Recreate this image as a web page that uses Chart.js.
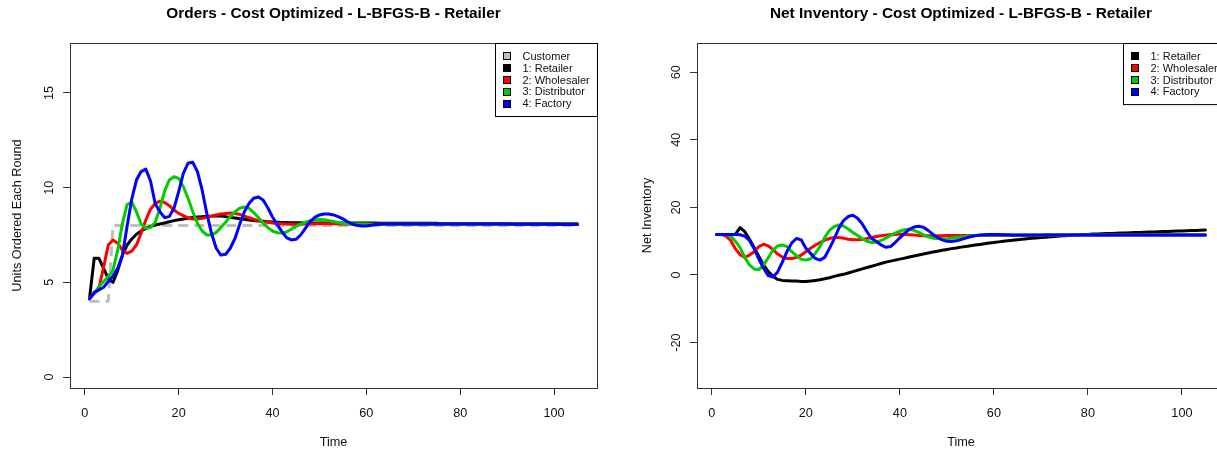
<!DOCTYPE html>
<html>
<head>
<meta charset="utf-8">
<script src="https://cdn.jsdelivr.net/npm/chart.js@4/dist/chart.umd.min.js"></script>
<style>
  html, body { margin: 0; padding: 0; background: #fff; overflow: hidden; width: 1217px; height: 452px; }
  #ordersChart { position: absolute; left: 0; top: 0; }
  #inventoryChart { position: absolute; left: 608px; top: 0; }
</style>
</head>
<body>
<canvas id="ordersChart" width="608" height="452" style="width:608px;height:452px"></canvas>
<canvas id="inventoryChart" width="640" height="452" style="width:640px;height:452px"></canvas>
<script>
// rounds of the game (x axis)
const rounds = Array.from({ length: 105 }, (_, i) => i + 1);
const timeTicks = [0, 20, 40, 60, 80, 100];
const orderTicks = [0, 5, 10, 15];
const inventoryTicks = [-20, 0, 20, 40, 60];

// left panel: units ordered each round
const ordersCustomer = [
  4, 4, 4, 4, 4, 8, 8, 8, 8, 8,
  8, 8, 8, 8, 8, 8, 8, 8, 8, 8,
  8, 8, 8, 8, 8, 8, 8, 8, 8, 8,
  8, 8, 8, 8, 8, 8, 8, 8, 8, 8,
  8, 8, 8, 8, 8, 8, 8, 8, 8, 8,
  8, 8, 8, 8, 8, 8, 8, 8, 8, 8,
  8, 8, 8, 8, 8, 8, 8, 8, 8, 8,
  8, 8, 8, 8, 8, 8, 8, 8, 8, 8,
  8, 8, 8, 8, 8, 8, 8, 8, 8, 8,
  8, 8, 8, 8, 8, 8, 8, 8, 8, 8,
  8, 8, 8, 8, 8
];
const ordersRetailer = [
  4.15, 6.27, 6.27, 5.74, 5.2, 5.0, 5.62, 6.44, 6.97, 7.29,
  7.54, 7.71, 7.85, 7.94, 8.03, 8.08, 8.13, 8.2, 8.26, 8.31,
  8.35, 8.38, 8.42, 8.45, 8.47, 8.49, 8.5, 8.52, 8.5, 8.47,
  8.43, 8.4, 8.36, 8.33, 8.29, 8.27, 8.24, 8.22, 8.2, 8.18,
  8.17, 8.16, 8.16, 8.15, 8.15, 8.15, 8.14, 8.14, 8.14, 8.14,
  8.14, 8.14, 8.13, 8.13, 8.13, 8.13, 8.13, 8.13, 8.13, 8.13,
  8.13, 8.13, 8.12, 8.12, 8.12, 8.12, 8.12, 8.12, 8.12, 8.12,
  8.12, 8.12, 8.12, 8.12, 8.12, 8.1, 8.1, 8.1, 8.1, 8.1,
  8.1, 8.1, 8.1, 8.1, 8.1, 8.1, 8.1, 8.1, 8.1, 8.1,
  8.1, 8.1, 8.1, 8.1, 8.1, 8.1, 8.1, 8.1, 8.1, 8.1,
  8.1, 8.1, 8.1, 8.1, 8.1
];
const ordersWholesaler = [
  4.15, 4.4, 4.68, 5.8, 6.97, 7.23, 7.06, 6.71, 6.53, 6.65,
  6.97, 7.59, 8.29, 8.86, 9.17, 9.29, 9.22, 9.05, 8.82, 8.64,
  8.52, 8.41, 8.34, 8.34, 8.38, 8.43, 8.49, 8.56, 8.61, 8.64,
  8.66, 8.64, 8.59, 8.5, 8.41, 8.33, 8.26, 8.2, 8.17, 8.13,
  8.11, 8.09, 8.08, 8.07, 8.07, 8.07, 8.08, 8.09, 8.1, 8.1,
  8.1, 8.09, 8.09, 8.08, 8.08, 8.08, 8.07, 8.07, 8.07, 8.07,
  8.07, 8.07, 8.07, 8.07, 8.07, 8.07, 8.07, 8.07, 8.07, 8.07,
  8.07, 8.07, 8.07, 8.07, 8.07, 8.07, 8.07, 8.07, 8.07, 8.07,
  8.07, 8.07, 8.07, 8.07, 8.07, 8.07, 8.07, 8.07, 8.07, 8.07,
  8.07, 8.07, 8.07, 8.07, 8.07, 8.07, 8.07, 8.07, 8.07, 8.07,
  8.07, 8.07, 8.07, 8.07, 8.07
];
const ordersDistributor = [
  4.15, 4.42, 4.77, 5.04, 5.3, 5.65, 6.7, 8.1, 9.1, 9.23,
  8.73, 8.08, 7.85, 7.89, 8.17, 8.91, 9.82, 10.4, 10.58, 10.49,
  10.05, 9.44, 8.73, 8.12, 7.71, 7.5, 7.5, 7.64, 7.89, 8.17,
  8.47, 8.73, 8.91, 8.98, 8.91, 8.68, 8.42, 8.12, 7.89, 7.71,
  7.62, 7.6, 7.66, 7.8, 7.95, 8.08, 8.18, 8.25, 8.3, 8.32,
  8.3, 8.26, 8.21, 8.16, 8.12, 8.1, 8.09, 8.08, 8.08, 8.08,
  8.07, 8.07, 8.07, 8.07, 8.07, 8.07, 8.07, 8.07, 8.07, 8.07,
  8.07, 8.07, 8.07, 8.07, 8.07, 8.07, 8.07, 8.07, 8.07, 8.07,
  8.07, 8.07, 8.07, 8.07, 8.07, 8.07, 8.07, 8.07, 8.07, 8.07,
  8.07, 8.07, 8.07, 8.07, 8.07, 8.07, 8.07, 8.07, 8.07, 8.07,
  8.07, 8.07, 8.07, 8.07, 8.07
];
const ordersFactory = [
  4.12, 4.47, 4.6, 4.74, 5.04, 5.33, 5.74, 6.4, 7.95, 9.4,
  10.4, 10.85, 10.98, 10.35, 9.15, 8.73, 8.42, 8.47, 8.91, 9.79,
  10.76, 11.29, 11.34, 10.85, 9.88, 8.64, 7.59, 6.8, 6.44, 6.48,
  6.8, 7.32, 8.06, 8.73, 9.17, 9.44, 9.51, 9.35, 8.94, 8.45,
  8.05, 7.68, 7.36, 7.24, 7.27, 7.5, 7.85, 8.2, 8.43, 8.56,
  8.61, 8.61, 8.56, 8.47, 8.35, 8.2, 8.08, 8.01, 7.98, 7.98,
  8.01, 8.05, 8.08, 8.08, 8.08, 8.08, 8.08, 8.08, 8.08, 8.08,
  8.08, 8.08, 8.08, 8.08, 8.08, 8.08, 8.08, 8.08, 8.08, 8.08,
  8.08, 8.08, 8.08, 8.08, 8.08, 8.08, 8.08, 8.08, 8.08, 8.08,
  8.07, 8.07, 8.07, 8.07, 8.07, 8.07, 8.07, 8.07, 8.07, 8.07,
  8.06, 8.06, 8.06, 8.05, 8.05
];

// right panel: net inventory
const invRetailer = [
  12, 12, 12, 12, 12, 14.0, 12.8, 10.6, 8.1, 5.5,
  3.0, 1.0, -0.4, -1.3, -1.6, -1.7, -1.8, -1.8, -1.9, -1.9,
  -1.8, -1.6, -1.4, -1.1, -0.8, -0.4, -0.1, 0.2, 0.6, 1.0,
  1.4, 1.8, 2.2, 2.6, 3.0, 3.4, 3.8, 4.1, 4.4, 4.7,
  5.0, 5.3, 5.6, 5.9, 6.2, 6.5, 6.8, 7.05, 7.3, 7.55,
  7.8, 8.0, 8.25, 8.45, 8.65, 8.85, 9.05, 9.25, 9.45, 9.6,
  9.8, 9.95, 10.1, 10.25, 10.4, 10.55, 10.7, 10.85, 10.95, 11.1,
  11.2, 11.3, 11.4, 11.5, 11.6, 11.7, 11.8, 11.85, 11.95, 12.0,
  12.1, 12.15, 12.2, 12.25, 12.3, 12.35, 12.4, 12.45, 12.5, 12.55,
  12.6, 12.65, 12.7, 12.75, 12.8, 12.85, 12.9, 12.95, 13.0, 13.05,
  13.1, 13.15, 13.2, 13.25, 13.3
];
const invWholesaler = [
  12, 12, 11.5, 10.2, 7.8, 6.0, 5.2, 5.9, 6.9, 8.4,
  9.1, 8.6, 7.5, 6.2, 5.3, 4.9, 4.9, 5.2, 5.9, 6.9,
  7.9, 8.8, 9.6, 10.3, 10.8, 11.1, 11.1, 10.9, 10.6, 10.4,
  10.4, 10.5, 10.8, 11.1, 11.4, 11.6, 11.8, 11.9, 12.0, 12.1,
  12.0, 11.9, 11.8, 11.7, 11.6, 11.6, 11.6, 11.6, 11.6, 11.7,
  11.7, 11.7, 11.7, 11.7, 11.7, 11.7, 11.7, 11.7, 11.7, 11.7,
  11.7, 11.7, 11.7, 11.7, 11.7, 11.7, 11.7, 11.7, 11.7, 11.7,
  11.8, 11.8, 11.8, 11.8, 11.8, 11.8, 11.8, 11.8, 11.8, 11.8,
  11.8, 11.8, 11.8, 11.8, 11.8, 11.8, 11.8, 11.8, 11.8, 11.8,
  11.8, 11.8, 11.8, 11.8, 11.8, 11.8, 11.8, 11.8, 11.8, 11.8,
  11.8, 11.8, 11.8, 11.8, 11.8
];
const invDistributor = [
  12, 12, 12, 11.5, 10.0, 8.1, 5.2, 3.0, 1.8, 1.6,
  2.9, 5.1, 7.4, 8.6, 8.9, 8.4, 6.9, 5.7, 4.7, 4.4,
  4.8, 6.4, 8.4, 11.1, 13.1, 14.3, 14.8, 14.5, 13.6, 12.6,
  11.7, 10.7, 10.0, 9.6, 9.7, 10.2, 10.9, 11.7, 12.4, 13.0,
  13.4, 13.5, 13.2, 12.6, 11.9, 11.3, 10.9, 10.8, 10.7, 10.7,
  10.9, 11.1, 11.3, 11.4, 11.6, 11.7, 11.8, 11.8, 11.8, 11.8,
  11.8, 11.8, 11.8, 11.8, 11.8, 11.8, 11.8, 11.8, 11.8, 11.8,
  11.8, 11.8, 11.8, 11.8, 11.8, 11.8, 11.8, 11.8, 11.8, 11.8,
  11.8, 11.8, 11.8, 11.8, 11.8, 11.8, 11.8, 11.8, 11.8, 11.8,
  11.8, 11.8, 11.8, 11.8, 11.8, 11.8, 11.8, 11.8, 11.8, 11.8,
  11.8, 11.8, 11.8, 11.8, 11.8
];
const invFactory = [
  12, 12, 12, 12, 12, 11.9, 11.5, 10.2, 7.8, 4.7,
  2.0, -0.2, -0.6, 0.9, 3.8, 7.0, 9.5, 10.8, 10.4, 7.9,
  6.4, 4.9, 4.4, 5.2, 7.8, 10.6, 13.8, 16.1, 17.3, 17.7,
  16.8, 15.1, 12.8, 10.8, 9.9, 8.9, 8.2, 8.4, 9.6, 11.0,
  12.3, 13.5, 14.2, 14.4, 14.1, 13.2, 12.1, 11.1, 10.4, 10.0,
  9.9, 10.1, 10.5, 10.9, 11.3, 11.6, 11.8, 11.9, 12.0, 12.0,
  12.0, 11.9, 11.9, 11.8, 11.8, 11.8, 11.8, 11.8, 11.8, 11.8,
  11.8, 11.8, 11.8, 11.8, 11.8, 11.8, 11.8, 11.8, 11.8, 11.8,
  11.8, 11.8, 11.8, 11.8, 11.8, 11.8, 11.8, 11.8, 11.8, 11.8,
  11.8, 11.8, 11.8, 11.8, 11.8, 11.8, 11.8, 11.8, 11.8, 11.8,
  11.8, 11.8, 11.8, 11.8, 11.8
];

const fontFamily = '"Liberation Sans", Arial, Helvetica, sans-serif';
const axisColor = '#333';
const textColor = '#111';
const labelSize = 12.7;

// draws the R-like frame box, rotated y tick labels and a boxed legend
const rStyle = {
  id: 'rStyle',
  afterDraw(chart) {
    const { ctx, chartArea: a, scales: { y } } = chart;
    ctx.save();
    ctx.strokeStyle = axisColor;
    ctx.lineWidth = 1;
    ctx.strokeRect(Math.round(a.left) + 0.5, Math.round(a.top) + 0.5,
      Math.round(a.right - a.left), Math.round(a.bottom - a.top));

    ctx.fillStyle = textColor;
    ctx.font = labelSize + 'px ' + fontFamily;
    ctx.textAlign = 'center';
    ctx.textBaseline = 'middle';
    y.ticks.forEach(t => {
      ctx.save();
      ctx.translate(a.left - 21, y.getPixelForValue(t.value));
      ctx.rotate(-Math.PI / 2);
      ctx.fillText(String(t.value), 0, 0);
      ctx.restore();
    });

    // legend in the top right corner
    const items = chart.data.datasets;
    const w = 102, first = 12.7, step = 11.9;
    const h = first * 2 + step * (items.length - 1);
    const lx = Math.round(a.right - w) + 0.5, ly = Math.round(a.top) + 0.5;
    ctx.fillStyle = '#fff';
    ctx.fillRect(lx, ly, w, h);
    ctx.strokeStyle = '#000';
    ctx.strokeRect(lx, ly, w, h);
    ctx.font = '11px ' + fontFamily;
    ctx.textAlign = 'left';
    items.forEach((ds, i) => {
      const cy = ly + first + i * step;
      ctx.fillStyle = ds.borderColor;
      ctx.fillRect(lx + 8, Math.round(cy - 4) + 0.5, 7, 7);
      ctx.strokeStyle = '#000';
      ctx.strokeRect(lx + 8, Math.round(cy - 4) + 0.5, 7, 7);
      ctx.fillStyle = textColor;
      ctx.fillText(ds.label, lx + 27, cy + 0.5);
    });
    ctx.restore();
  }
};

function line(label, color, values, order, dash) {
  return {
    label: label,
    data: values.map((v, i) => ({ x: rounds[i], y: v })),
    borderColor: color,
    backgroundColor: color,
    borderWidth: 3,
    borderDash: dash || [],
    borderCapStyle: dash ? 'butt' : 'round',
    borderJoinStyle: 'round',
    pointRadius: 0,
    tension: 0,
    fill: false,
    order: order
  };
}

function makeChart(id, title, yLabel, datasets, yMin, yMax, yTicks, boxLeft, padRight, yTitlePad) {
  return new Chart(document.getElementById(id), {
    type: 'line',
    data: { datasets: datasets },
    plugins: [rStyle],
    options: {
      responsive: false,
      animation: false,
      events: [],
      layout: { padding: { left: 0, right: padRight, top: 0, bottom: 0 } },
      plugins: {
        legend: { display: false },
        tooltip: { enabled: false },
        title: {
          display: true,
          text: title,
          fullSize: false,
          color: '#000',
          font: { family: fontFamily, size: 15.4, weight: 'bold', lineHeight: 1.2 },
          padding: { top: 4.8, bottom: 19.7 }
        }
      },
      scales: {
        x: {
          type: 'linear',
          min: -3.16,
          max: 109.16,
          afterBuildTicks: s => { s.ticks = timeTicks.map(v => ({ value: v })); },
          afterFit: s => { s.height = 64; },
          border: { display: false },
          grid: { drawOnChartArea: false, drawTicks: true, tickLength: 7, color: axisColor },
          ticks: { color: textColor, font: { family: fontFamily, size: labelSize }, padding: 11, maxRotation: 0, autoSkip: false },
          title: { display: true, text: 'Time', color: textColor, font: { family: fontFamily, size: labelSize }, padding: { top: 0, bottom: 1.4 } }
        },
        y: {
          type: 'linear',
          min: yMin,
          max: yMax,
          afterBuildTicks: s => { s.ticks = yTicks.map(v => ({ value: v })); },
          afterFit: s => { s.width = boxLeft; },
          border: { display: false },
          grid: { drawOnChartArea: false, drawTicks: true, tickLength: 7, color: axisColor },
          ticks: { display: false },
          title: { display: true, text: yLabel, color: textColor, font: { family: fontFamily, size: labelSize }, padding: { top: yTitlePad, bottom: 0 } }
        }
      }
    }
  });
}

makeChart('ordersChart', 'Orders - Cost Optimized - L-BFGS-B - Retailer', 'Units Ordered Each Round', [
  line('Customer', '#BEBEBE', ordersCustomer, 5, [10, 6]),
  line('1: Retailer', '#000000', ordersRetailer, 4),
  line('2: Wholesaler', '#FF0000', ordersWholesaler, 3),
  line('3: Distributor', '#00CD00', ordersDistributor, 2),
  line('4: Factory', '#0000FF', ordersFactory, 1)
], -0.58, 17.64, orderTicks, 70, 11, 9.4);

makeChart('inventoryChart', 'Net Inventory - Cost Optimized - L-BFGS-B - Retailer', 'Net Inventory', [
  line('1: Retailer', '#000000', invRetailer, 4),
  line('2: Wholesaler', '#FF0000', invWholesaler, 3),
  line('3: Distributor', '#00CD00', invDistributor, 2),
  line('4: Factory', '#0000FF', invFactory, 1)
], -33.43, 68.64, inventoryTicks, 89, 23, 31.4);
</script>
</body>
</html>
